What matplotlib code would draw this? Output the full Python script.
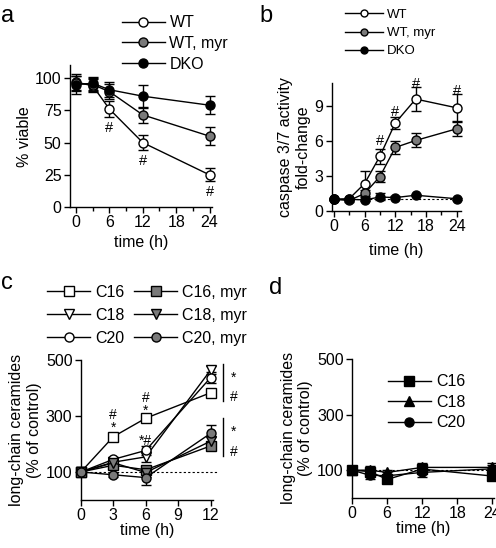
import numpy as np
import matplotlib.pyplot as plt
from matplotlib.ticker import FixedLocator
from matplotlib.lines import Line2D

plt.rcParams['font.family'] = ['Liberation Sans', 'DejaVu Sans']
plt.rcParams['font.size'] = 11.5
plt.rcParams['axes.linewidth'] = 1.0
plt.rcParams['xtick.major.width'] = 1.0
plt.rcParams['ytick.major.width'] = 1.0
plt.rcParams['xtick.minor.width'] = 1.0
plt.rcParams['xtick.major.size'] = 4
plt.rcParams['ytick.major.size'] = 4
plt.rcParams['xtick.minor.size'] = 3

GRAY = "#7a7a7a"
FS = 11.5

# ---------------- data: panel a (% viable) ----------------
t_a = [0, 3, 6, 12, 24]
a_wt = [97, 94, 76, 50, 25]
a_wt_err = [6, 5, 6, 6, 5]
a_myr = [96, 95, 89.5, 71.5, 55]
a_myr_err = [6, 5, 6, 6, 7]
a_dko = [95, 96, 91, 86, 79]
a_dko_err = [7, 5, 6, 9, 7]
a_hash_t = [6, 12, 24]
a_hash_y = [61, 36, 12]

# ---------------- data: panel b (caspase 3/7) ----------------
t_b = [0, 3, 6, 9, 12, 16, 24]
b_wt = [1.0, 1.05, 2.35, 4.7, 7.55, 9.6, 8.85]
b_wt_err = [0.05, 0.1, 1.05, 0.65, 0.5, 1.0, 1.15]
b_myr = [1.0, 0.9, 1.5, 2.95, 5.45, 6.05, 7.05]
b_myr_err = [0.05, 0.1, 0.3, 0.45, 0.55, 0.6, 0.6]
b_dko = [1.0, 1.0, 0.95, 1.2, 1.15, 1.35, 1.05]
b_dko_err = [0.05, 0.1, 0.1, 0.3, 0.1, 0.1, 0.1]
b_hash_t = [9, 12, 16, 24]
b_hash_y = [6.0, 8.5, 10.85, 10.3]

# ---------------- data: panel c (ceramides, WT) ----------------
t_c = [0, 3, 6, 12]
c16 = [100, 226, 292, 383]
c16_err = [8, 12, 15, 15]
c18 = [100, 135, 154, 464]
c18_err = [8, 10, 20, 15]
c20 = [100, 145, 177, 437]
c20_err = [8, 10, 15, 20]
c16_myr = [100, 124, 108, 193]
c16_myr_err = [8, 10, 15, 15]
c18_myr = [100, 133, 98, 210]
c18_myr_err = [8, 10, 15, 15]
c20_myr = [100, 90, 80, 238]
c20_myr_err = [8, 8, 25, 30]

# ---------------- data: panel d (ceramides, DKO) ----------------
t_d = [0, 3, 6, 12, 24]
d16 = [100, 95, 67, 104, 79]
d16_err = [12, 15, 12, 18, 15]
d18 = [100, 100, 92, 110, 110]
d18_err = [10, 15, 10, 15, 15]
d20 = [100, 82, 80, 92, 105]
d20_err = [10, 12, 12, 15, 15]

fig = plt.figure(figsize=(4.96, 5.48), dpi=100)


def eb(ax, x, y, e, marker, face, ms=6.5):
    ax.errorbar(x, y, yerr=e, color="black", marker=marker, markerfacecolor=face,
                markeredgecolor="black", markeredgewidth=1.0, markersize=ms,
                linewidth=1.0, elinewidth=1.0, capsize=3.5, capthick=1.0,
                clip_on=False, zorder=3)


def handle(marker, face, ms=6.5):
    return Line2D([], [], color="black", marker=marker, markerfacecolor=face,
                  markeredgecolor="black", markeredgewidth=1.0, markersize=ms,
                  linewidth=1.0)


def style(ax):
    for s in ["top", "right"]:
        ax.spines[s].set_visible(False)
    ax.tick_params(direction="out", labelsize=FS, pad=2)
    ax.xaxis.label.set_size(FS)
    ax.yaxis.label.set_size(FS)


def legend(ax, handles, labels, x, y, ncol=1, fs=FS, hl=2.7, ls=0.35, **kw):
    ax.legend(handles, labels, loc="upper left", bbox_to_anchor=(x, y),
              bbox_transform=fig.transFigure, frameon=False, ncol=ncol,
              handlelength=hl, handletextpad=0.3, labelspacing=ls,
              borderaxespad=0, borderpad=0, fontsize=fs, **kw)


def mark(ax, x, y, s, fs=10.5):
    ax.text(x, y, s, ha="center", va="center", fontsize=fs, clip_on=False)


# ---- panel a ----
ax = fig.add_axes([0.141, 0.622, 0.286, 0.259])
eb(ax, t_a, a_wt, a_wt_err, "o", "white")
eb(ax, t_a, a_myr, a_myr_err, "o", GRAY)
eb(ax, t_a, a_dko, a_dko_err, "o", "black")
for t, y in zip(a_hash_t, a_hash_y):
    mark(ax, t, y, "#")
ax.set_xlim(-1.1, 24.4)
ax.set_ylim(0, 110)
ax.set_xticks([0, 6, 12, 18, 24])
ax.xaxis.set_minor_locator(FixedLocator([3, 9, 15, 21]))
ax.set_yticks([0, 25, 50, 75, 100])
ax.set_xlabel("time (h)", labelpad=3)
ax.set_ylabel("% viable", labelpad=2)
style(ax)
legend(ax, [handle("o", "white"), handle("o", GRAY), handle("o", "black")],
       ["WT", "WT, myr", "DKO"], 0.245, 0.972)
fig.text(0.003, 0.99, "a", fontsize=17, va="top")

# ---- panel b ----
ax = fig.add_axes([0.669, 0.615, 0.260, 0.234])
ax.plot([0, 24], [1, 1], color="black", linestyle=(0, (2, 2)), linewidth=0.8, zorder=1)
eb(ax, t_b, b_wt, b_wt_err, "o", "white")
eb(ax, t_b, b_myr, b_myr_err, "o", GRAY)
eb(ax, t_b, b_dko, b_dko_err, "o", "black")
for t, y in zip(b_hash_t, b_hash_y):
    mark(ax, t, y, "#")
ax.set_xlim(-0.4, 24.8)
ax.set_ylim(0, 11)
ax.set_xticks([0, 6, 12, 18, 24])
ax.xaxis.set_minor_locator(FixedLocator([3, 9, 15, 21]))
ax.set_yticks([0, 3, 6, 9])
ax.set_xlabel("time (h)", labelpad=6)
ax.set_ylabel("caspase 3/7 activity\nfold-change", labelpad=3)
style(ax)
legend(ax, [handle("o", "white", 5), handle("o", GRAY, 5), handle("o", "black", 5)],
       ["WT", "WT, myr", "DKO"], 0.695, 0.984, fs=9.5, hl=2.9, ls=0.45)
fig.text(0.523, 0.99, "b", fontsize=17, va="top")

# ---- panel c ----
ax = fig.add_axes([0.163, 0.0876, 0.266, 0.2555])
ax.plot([0, 12.6], [100, 100], color="black", linestyle=(0, (2, 2)), linewidth=0.8,
        zorder=1, clip_on=False)
eb(ax, t_c, c16, c16_err, "s", "white")
eb(ax, t_c, c18, c18_err, "v", "white")
eb(ax, t_c, c20, c20_err, "o", "white")
eb(ax, t_c, c16_myr, c16_myr_err, "s", GRAY)
eb(ax, t_c, c18_myr, c18_myr_err, "v", GRAY)
eb(ax, t_c, c20_myr, c20_myr_err, "o", GRAY)
mark(ax, 3, 304, "#", 10)
mark(ax, 3, 258, "*", 10)
mark(ax, 6, 366, "#", 10)
mark(ax, 6, 320, "*", 10)
mark(ax, 6, 210, "*#", 10)
for lo, hi in [(352, 485), (156, 292)]:
    ax.plot([13.1, 13.1], [lo, hi], color="black", linewidth=1.0, clip_on=False)
    mark(ax, 14.1, lo + 0.64 * (hi - lo), "*", 10)
    mark(ax, 14.1, lo + 0.12 * (hi - lo), "#", 10)
ax.set_xlim(0, 12.2)
ax.set_ylim(0, 500)
ax.set_xticks([0, 3, 6, 9, 12])
ax.set_yticks([100, 300, 500])
ax.set_xlabel("time (h)", labelpad=0)
ax.set_ylabel("long-chain ceramides\n(% of control)", labelpad=3)
style(ax)
legend(ax, [handle("s", "white"), handle("v", "white"), handle("o", "white"),
            handle("s", GRAY), handle("v", GRAY), handle("o", GRAY)],
       ["C16", "C18", "C20", "C16, myr", "C18, myr", "C20, myr"],
       0.095, 0.48, ncol=2, ls=0.5, columnspacing=0.6)
fig.text(0.003, 0.503, "c", fontsize=17, va="top")

# ---- panel d ----
ax = fig.add_axes([0.710, 0.0912, 0.286, 0.254])
ax.plot([0, 24], [100, 100], color="black", linestyle=(0, (2, 2)), linewidth=0.8, zorder=1)
eb(ax, t_d, d16, d16_err, "s", "black")
eb(ax, t_d, d18, d18_err, "^", "black")
eb(ax, t_d, d20, d20_err, "o", "black")
ax.set_xlim(0, 24.3)
ax.set_ylim(0, 500)
ax.set_xticks([0, 6, 12, 18, 24])
ax.set_yticks([100, 300, 500])
ax.set_xlabel("time (h)", labelpad=0)
ax.set_ylabel("long-chain ceramides\n(% of control)", labelpad=3)
style(ax)
legend(ax, [handle("s", "black"), handle("^", "black"), handle("o", "black")],
       ["C16", "C18", "C20"], 0.782, 0.317)
fig.text(0.543, 0.495, "d", fontsize=17, va="top")

plt.savefig("out.png", dpi=100)
